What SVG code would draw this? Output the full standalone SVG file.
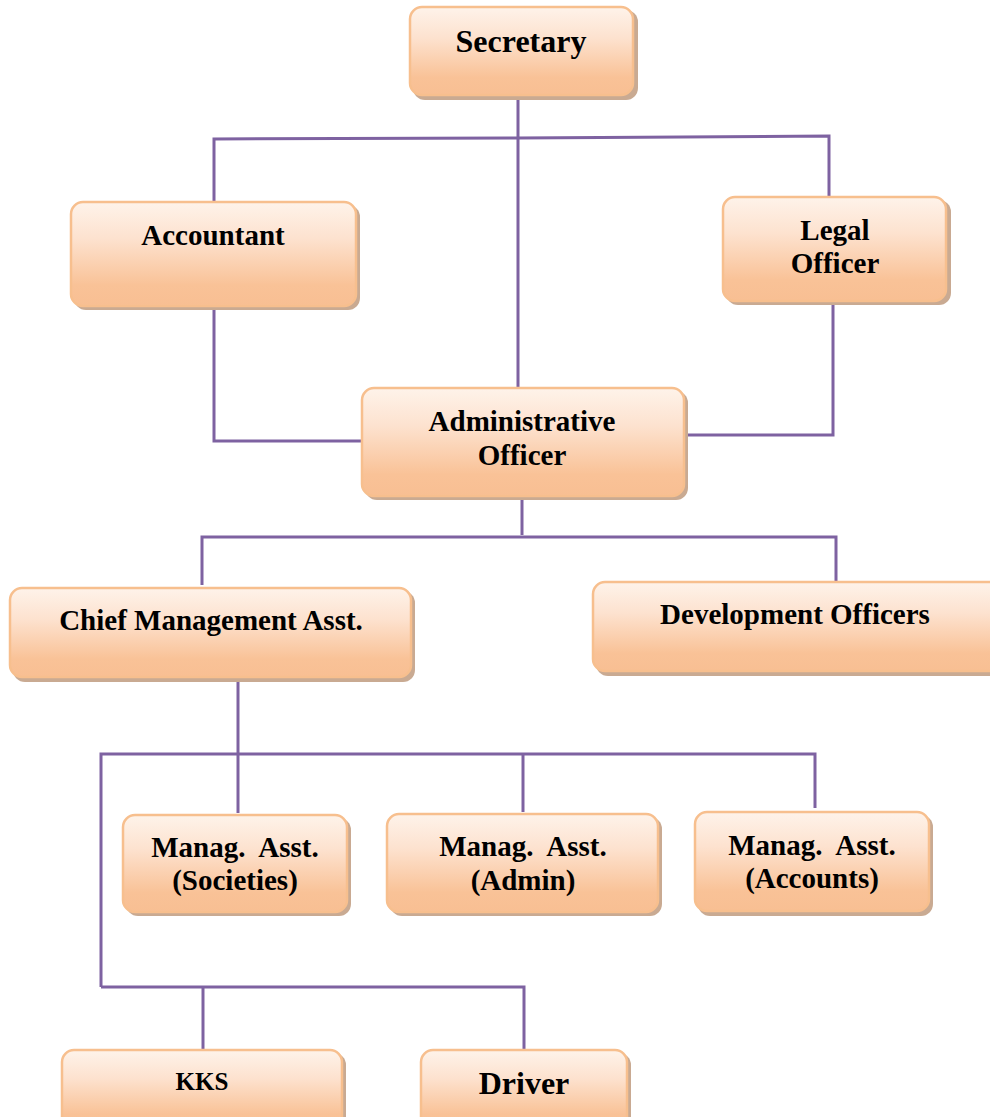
<svg xmlns="http://www.w3.org/2000/svg" width="990" height="1117" viewBox="0 0 990 1117">
<defs>
<linearGradient id="g" x1="0" y1="0" x2="0" y2="1">
<stop offset="0" stop-color="#fef3ea"/>
<stop offset="0.35" stop-color="#fde2cf"/>
<stop offset="0.8" stop-color="#f9c297"/>
<stop offset="1" stop-color="#f8bf93"/>
</linearGradient>
</defs>
<style>
.sh{fill:#c9aa92}
.bx{fill:url(#g);stroke:#f7bf8e;stroke-width:2.5}
.t{font-family:"Liberation Serif","Times New Roman",serif;font-weight:bold;font-size:29px;fill:#000;text-anchor:middle;white-space:pre}
.c{fill:none;stroke:#7e62a1;stroke-width:3}
</style>
<rect width="990" height="1117" fill="#fff"/>
<g id="connectors">
<path class="c" d="M518 97V388"/>
<path class="c" d="M214 202V139L518 138 829 136V196"/>
<path class="c" d="M214 309V441H362"/>
<path class="c" d="M833 305V435H686"/>
<path class="c" d="M522 499V535"/>
<path class="c" d="M202 585V537H836V584"/>
<path class="c" d="M238 678V813"/>
<path class="c" d="M101 987V754H815V808"/>
<path class="c" d="M523 754V812"/>
<path class="c" d="M101 987H524V1051"/>
<path class="c" d="M203 987V1051"/>
</g>
<g id="secretary">
<rect class="sh" x="413" y="10" width="225" height="90" rx="12"/>
<rect class="bx" x="410" y="7" width="223" height="88" rx="12"/>
<text class="t" x="521" y="52" style="font-size:32px">Secretary</text>
</g>
<g id="accountant">
<rect class="sh" x="74" y="205" width="286" height="105" rx="12"/>
<rect class="bx" x="71" y="202" width="285" height="104" rx="12"/>
<text class="t" x="213" y="245">Accountant</text>
</g>
<g id="legal-officer">
<rect class="sh" x="726" y="200" width="225" height="105" rx="12"/>
<rect class="bx" x="723" y="197" width="223" height="104" rx="12"/>
<text class="t" x="835" y="240">Legal</text>
<text class="t" x="835" y="273">Officer</text>
</g>
<g id="administrative-officer">
<rect class="sh" x="365" y="391" width="323" height="109" rx="12"/>
<rect class="bx" x="362" y="388" width="322" height="108" rx="12"/>
<text class="t" x="522" y="431">Administrative</text>
<text class="t" x="522" y="465">Officer</text>
</g>
<g id="chief-management-asst">
<rect class="sh" x="13" y="591" width="402" height="91" rx="12"/>
<rect class="bx" x="10" y="588" width="401" height="89" rx="12"/>
<text class="t" x="211" y="630">Chief Management Asst.</text>
</g>
<g id="development-officers">
<rect class="sh" x="596" y="585" width="410" height="91" rx="12"/>
<rect class="bx" x="593" y="582" width="410" height="89" rx="12"/>
<text class="t" x="795" y="624">Development Officers</text>
</g>
<g id="manag-asst-societies">
<rect class="sh" x="126" y="818" width="225" height="98" rx="12"/>
<rect class="bx" x="123" y="815" width="224" height="97" rx="12"/>
<text class="t" x="235" y="857">Manag.  Asst.</text>
<text class="t" x="235" y="890">(Societies)</text>
</g>
<g id="manag-asst-admin">
<rect class="sh" x="390" y="817" width="272" height="99" rx="12"/>
<rect class="bx" x="387" y="814" width="271" height="98" rx="12"/>
<text class="t" x="523" y="856">Manag.  Asst.</text>
<text class="t" x="523" y="890">(Admin)</text>
</g>
<g id="manag-asst-accounts">
<rect class="sh" x="698" y="815" width="235" height="101" rx="12"/>
<rect class="bx" x="695" y="812" width="234" height="99" rx="12"/>
<text class="t" x="812" y="855">Manag.  Asst.</text>
<text class="t" x="812" y="888">(Accounts)</text>
</g>
<g id="kks">
<rect class="sh" x="65" y="1053" width="281" height="80" rx="12"/>
<rect class="bx" x="62" y="1050" width="280" height="80" rx="12"/>
<text class="t" x="202" y="1090" style="font-size:25px">KKS</text>
</g>
<g id="driver">
<rect class="sh" x="424" y="1053" width="207" height="80" rx="12"/>
<rect class="bx" x="421" y="1050" width="206" height="80" rx="12"/>
<text class="t" x="524" y="1094" style="font-size:32px">Driver</text>
</g>
</svg>
